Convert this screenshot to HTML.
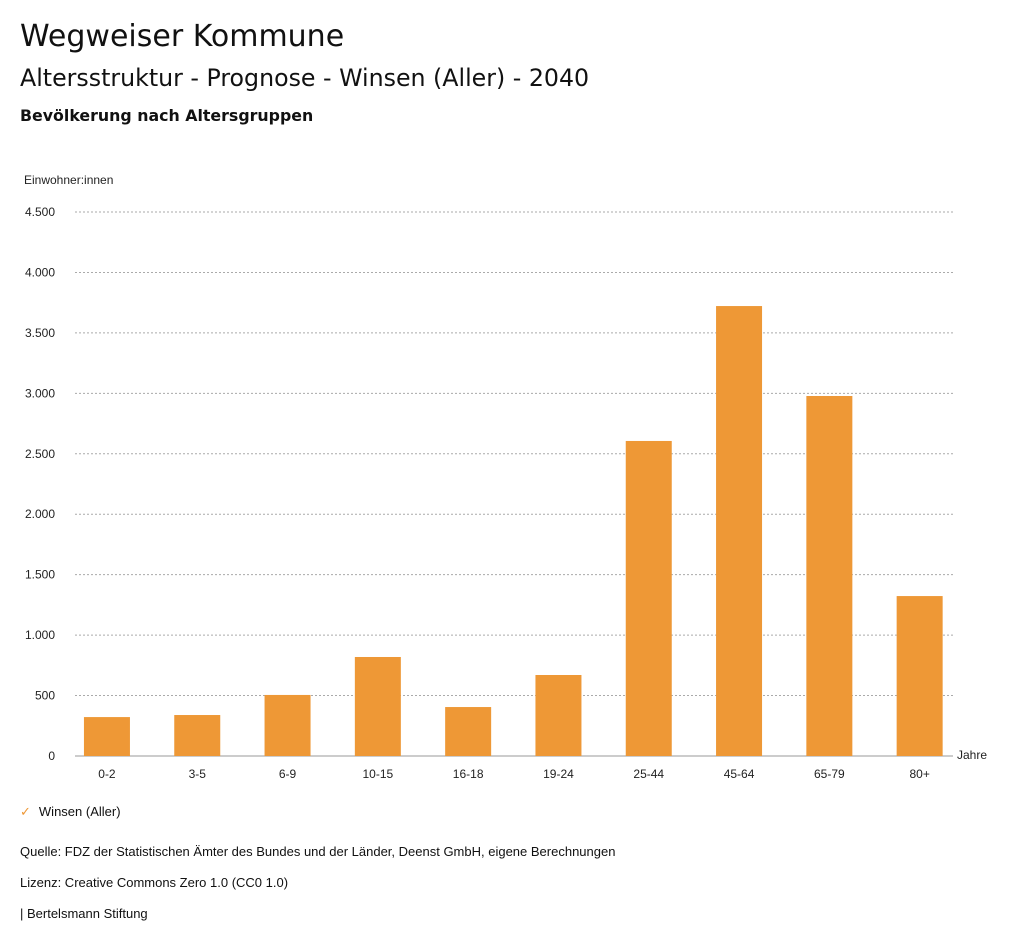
<!DOCTYPE html>
<html><head><meta charset="utf-8">
<style>
body{margin:0;background:#fff;font-family:"Liberation Sans","DejaVu Sans",sans-serif;color:#111;}
#wrap{position:relative;width:1024px;height:946px;overflow:hidden;}
.t{position:absolute;white-space:nowrap;}
.dj{font-family:"DejaVu Sans","Liberation Sans",sans-serif;}
</style></head>
<body>
<div id="wrap">
<div class="t dj" style="left:20px;top:19px;font-size:30px;">Wegweiser Kommune</div>
<div class="t dj" style="left:20px;top:64px;font-size:23.7px;">Altersstruktur - Prognose - Winsen (Aller) - 2040</div>
<div class="t dj" style="left:20px;top:106px;font-size:15.8px;font-weight:bold;">Bevölkerung nach Altersgruppen</div>
<svg id="chart" width="1024" height="946" style="position:absolute;left:0;top:0"></svg>
<div class="t" style="left:20px;top:804px;font-size:13px;"><span style="color:#ee9836;margin-right:8px;">✓</span>Winsen (Aller)</div>
<div class="t" style="left:20px;top:844px;font-size:13px;">Quelle: FDZ der Statistischen Ämter des Bundes und der Länder, Deenst GmbH, eigene Berechnungen</div>
<div class="t" style="left:20px;top:875px;font-size:13px;">Lizenz: Creative Commons Zero 1.0 (CC0 1.0)</div>
<div class="t" style="left:20px;top:906px;font-size:13px;">| Bertelsmann Stiftung</div>
</div>
<script>
const categories=["0-2","3-5","6-9","10-15","16-18","19-24","25-44","45-64","65-79","80+"];
const values=[322,339,505,819,405,670,2606,3722,2978,1323];
const ticks=[0,500,1000,1500,2000,2500,3000,3500,4000,4500];
const tickLabels=["0","500","1.000","1.500","2.000","2.500","3.000","3.500","4.000","4.500"];
const NS="http://www.w3.org/2000/svg";
const svg=document.getElementById('chart');
const x0=61.8,bandW=90.3,y0=756,yTop=212,maxV=4500,barW=46;
const y=v=>y0-(v/maxV)*(y0-yTop);
const xc=i=>x0+bandW*(i+0.5);
function mk(tag,attrs){const e=document.createElementNS(NS,tag);for(const k in attrs)e.setAttribute(k,attrs[k]);svg.appendChild(e);return e;}
ticks.forEach((t,i)=>{
  const yy=y(t);
  const g=mk('line',{x1:75,x2:953,y1:yy,y2:yy,stroke:i==0?'#999':'#aaa','stroke-width':1,'stroke-dasharray':i==0?'':'2,2'});
  
  
  const tx=mk('text',{x:55,y:yy+4,'text-anchor':'end','font-size':12,fill:'#222','font-family':'Liberation Sans, sans-serif'});
  tx.textContent=tickLabels[i];
  
  
});
const yt=mk('text',{x:24,y:184,'font-size':12,fill:'#222','font-family':'Liberation Sans, sans-serif'});
yt.textContent='Einwohner:innen';


const xt=mk('text',{x:957,y:759,'font-size':12,fill:'#222','font-family':'Liberation Sans, sans-serif'});
xt.textContent='Jahre';


categories.forEach((c,i)=>{
  const r=mk('rect',{x:xc(i)-barW/2,y:y(values[i]),width:barW,height:y0-y(values[i]),fill:'#ee9836'});
  
  
  const l=mk('text',{x:xc(i),y:778,'text-anchor':'middle','font-size':12,fill:'#222','font-family':'Liberation Sans, sans-serif'});
  l.textContent=c;
  
  
});
</script>
</body></html>
